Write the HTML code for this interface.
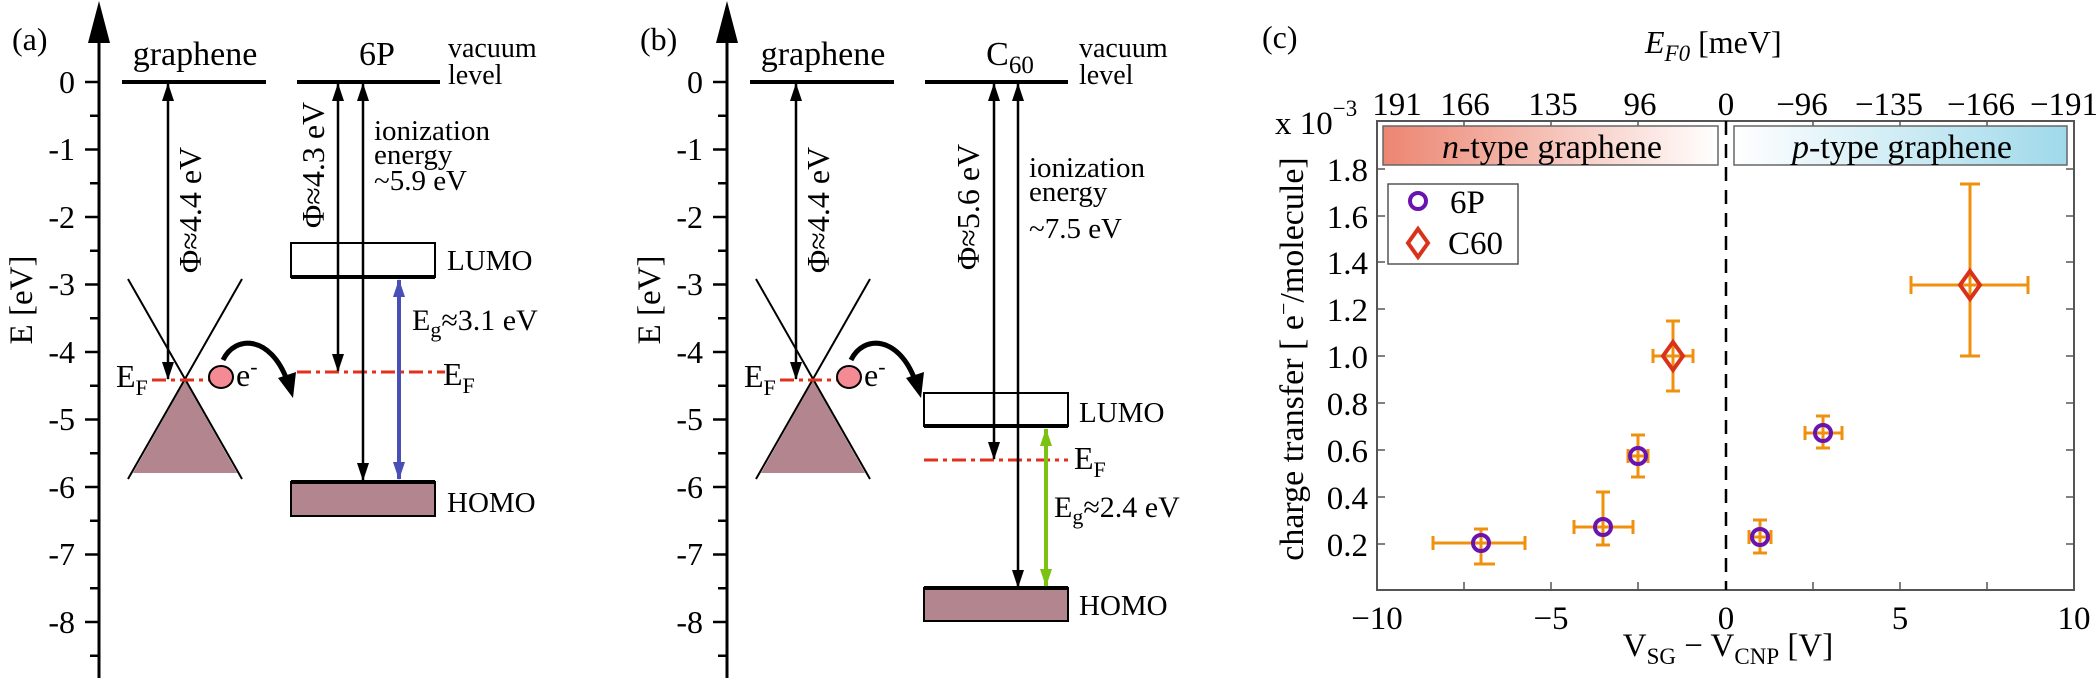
<!DOCTYPE html>
<html><head><meta charset="utf-8"><style>
html,body{margin:0;padding:0;background:#fff;}
svg{display:block;font-family:"Liberation Serif",serif;}
</style></head><body>
<svg width="2100" height="678" viewBox="0 0 2100 678" xmlns="http://www.w3.org/2000/svg">
<defs>
<marker id="ah" viewBox="0 0 18 12" refX="17" refY="6" markerWidth="18" markerHeight="12" orient="auto-start-reverse" markerUnits="userSpaceOnUse"><path d="M0,0 L18,6 L0,12 z" fill="#000"/></marker>
<marker id="ahb" viewBox="0 0 18 12" refX="17" refY="6" markerWidth="18" markerHeight="12" orient="auto-start-reverse" markerUnits="userSpaceOnUse"><path d="M0,0 L18,6 L0,12 z" fill="#4a4fb8"/></marker>
<marker id="ahg" viewBox="0 0 18 12" refX="17" refY="6" markerWidth="18" markerHeight="12" orient="auto-start-reverse" markerUnits="userSpaceOnUse"><path d="M0,0 L18,6 L0,12 z" fill="#7cc212"/></marker>
<linearGradient id="gn" x1="0" x2="1"><stop offset="0" stop-color="#ec8571"/><stop offset="1" stop-color="#fff"/></linearGradient>
<linearGradient id="gp" x1="0" x2="1"><stop offset="0" stop-color="#fff"/><stop offset="1" stop-color="#9fd9ea"/></linearGradient>
</defs>

<g id="pa">
<text x="12" y="50" font-size="32">(a)</text>
<line x1="99" y1="30" x2="99" y2="678" stroke="#000" stroke-width="3"/>
<polygon points="99,1 88,43 110,43" fill="#000"/>
<g stroke="#000" stroke-width="2.5">
<line x1="85" y1="82" x2="99" y2="82"/><line x1="85" y1="149.5" x2="99" y2="149.5"/><line x1="85" y1="217" x2="99" y2="217"/><line x1="85" y1="284.5" x2="99" y2="284.5"/><line x1="85" y1="352" x2="99" y2="352"/><line x1="85" y1="419.5" x2="99" y2="419.5"/><line x1="85" y1="487" x2="99" y2="487"/><line x1="85" y1="554.5" x2="99" y2="554.5"/><line x1="85" y1="622" x2="99" y2="622"/>
<line x1="90" y1="115.75" x2="99" y2="115.75"/><line x1="90" y1="183.25" x2="99" y2="183.25"/><line x1="90" y1="250.75" x2="99" y2="250.75"/><line x1="90" y1="318.25" x2="99" y2="318.25"/><line x1="90" y1="385.75" x2="99" y2="385.75"/><line x1="90" y1="453.25" x2="99" y2="453.25"/><line x1="90" y1="520.75" x2="99" y2="520.75"/><line x1="90" y1="588.25" x2="99" y2="588.25"/><line x1="90" y1="655.75" x2="99" y2="655.75"/>
</g>
<g font-size="32" text-anchor="end">
<text x="75" y="93">0</text><text x="75" y="160">-1</text><text x="75" y="228">-2</text><text x="75" y="295">-3</text><text x="75" y="363">-4</text><text x="75" y="430">-5</text><text x="75" y="498">-6</text><text x="75" y="565">-7</text><text x="75" y="633">-8</text>
</g>
<text transform="translate(32,300) rotate(-90)" font-size="33" text-anchor="middle">E [eV]</text>
<text x="195" y="65" font-size="34" text-anchor="middle">graphene</text>
<line x1="122" y1="82" x2="266" y2="82" stroke="#000" stroke-width="4"/>
<line x1="168" y1="84" x2="168" y2="379" stroke="#000" stroke-width="2.5" marker-start="url(#ah)" marker-end="url(#ah)"/>
<text transform="translate(201,210) rotate(-90)" font-size="32" text-anchor="middle">Φ≈4.4 eV</text>
<polygon points="185,381 133,473 237,473" fill="#b3858f"/>
<line x1="128" y1="279" x2="242" y2="479" stroke="#000" stroke-width="2"/>
<line x1="242" y1="279" x2="128" y2="479" stroke="#000" stroke-width="2"/>
<line x1="152" y1="380" x2="210" y2="380" stroke="#e0301e" stroke-width="3" stroke-dasharray="14,5,4,5"/>
<text x="116" y="387" font-size="32">E<tspan font-size="22" dy="8">F</tspan></text>
<ellipse cx="221" cy="377" rx="12" ry="11" fill="#f48a94" stroke="#000" stroke-width="2"/>
<text x="236" y="386" font-size="32">e<tspan font-size="22" dy="-12">-</tspan></text>
<path d="M223,360 C235,335 270,335 287,380" fill="none" stroke="#000" stroke-width="5"/>
<polygon points="293,398 278,378 296,372" fill="#000"/>
</g>
<use href="#pa" x="628" y="0"/>
<rect x="632" y="20" width="60" height="40" fill="#fff"/>
<text x="640" y="50" font-size="32">(b)</text>

<text x="377" y="65" font-size="34" text-anchor="middle">6P</text>
<line x1="297" y1="82" x2="440" y2="82" stroke="#000" stroke-width="4"/>
<text x="448" y="57" font-size="28">vacuum</text>
<text x="448" y="84" font-size="28">level</text>
<rect x="291" y="243" width="144" height="34" fill="#fff" stroke="#000" stroke-width="2"/>
<line x1="291" y1="277" x2="435" y2="277" stroke="#000" stroke-width="4"/>
<rect x="291" y="482" width="144" height="34" fill="#b3858f" stroke="#000" stroke-width="2"/>
<line x1="291" y1="482" x2="435" y2="482" stroke="#000" stroke-width="4"/>
<line x1="297" y1="372" x2="445" y2="372" stroke="#e0301e" stroke-width="3" stroke-dasharray="14,5,4,5"/>
<line x1="338" y1="84" x2="338" y2="371" stroke="#000" stroke-width="2.5" marker-start="url(#ah)" marker-end="url(#ah)"/>
<line x1="363" y1="84" x2="363" y2="480" stroke="#000" stroke-width="2.5" marker-start="url(#ah)" marker-end="url(#ah)"/>
<line x1="399" y1="280" x2="399" y2="479" stroke="#4a4fb8" stroke-width="4" marker-start="url(#ahb)" marker-end="url(#ahb)"/>
<text transform="translate(324,165) rotate(-90)" font-size="32" text-anchor="middle">Φ≈4.3 eV</text>
<text x="374" y="140" font-size="29">ionization</text>
<text x="374" y="164" font-size="29">energy</text>
<text x="374" y="190" font-size="29">~5.9 eV</text>
<text x="447" y="270" font-size="29">LUMO</text>
<text x="412" y="330" font-size="30">E<tspan font-size="22" dy="7">g</tspan><tspan dy="-7">≈3.1 eV</tspan></text>
<text x="443" y="385" font-size="32">E<tspan font-size="22" dy="8">F</tspan></text>
<text x="447" y="512" font-size="29">HOMO</text>

<text x="1010" y="65" font-size="34" text-anchor="middle">C<tspan font-size="25" dy="8">60</tspan></text>
<line x1="925" y1="82" x2="1068" y2="82" stroke="#000" stroke-width="4"/>
<text x="1079" y="57" font-size="28">vacuum</text>
<text x="1079" y="84" font-size="28">level</text>
<rect x="924" y="393" width="144" height="33" fill="#fff" stroke="#000" stroke-width="2"/>
<line x1="924" y1="426" x2="1068" y2="426" stroke="#000" stroke-width="4"/>
<rect x="924" y="588" width="144" height="33" fill="#b3858f" stroke="#000" stroke-width="2"/>
<line x1="924" y1="588" x2="1068" y2="588" stroke="#000" stroke-width="4"/>
<line x1="924" y1="460" x2="1068" y2="460" stroke="#e0301e" stroke-width="3" stroke-dasharray="14,5,4,5"/>
<line x1="994" y1="84" x2="994" y2="459" stroke="#000" stroke-width="2.5" marker-start="url(#ah)" marker-end="url(#ah)"/>
<line x1="1018" y1="84" x2="1018" y2="587" stroke="#000" stroke-width="2.5" marker-start="url(#ah)" marker-end="url(#ah)"/>
<line x1="1046" y1="429" x2="1046" y2="586" stroke="#7cc212" stroke-width="4" marker-start="url(#ahg)" marker-end="url(#ahg)"/>
<text transform="translate(979,207) rotate(-90)" font-size="32" text-anchor="middle">Φ≈5.6 eV</text>
<text x="1029" y="177" font-size="29">ionization</text>
<text x="1029" y="201" font-size="29">energy</text>
<text x="1029" y="238" font-size="29">~7.5 eV</text>
<text x="1079" y="422" font-size="29">LUMO</text>
<text x="1074" y="469" font-size="32">E<tspan font-size="22" dy="8">F</tspan></text>
<text x="1054" y="517" font-size="30">E<tspan font-size="22" dy="7">g</tspan><tspan dy="-7">≈2.4 eV</tspan></text>
<text x="1079" y="615" font-size="29">HOMO</text>

<text x="1262" y="48" font-size="32">(c)</text>
<text x="1645" y="53" font-size="32" font-style="italic">E<tspan font-size="23" dy="8">F0</tspan><tspan font-style="normal" dy="-8">  [meV]</tspan></text>
<rect x="1377" y="121" width="697" height="469" fill="none" stroke="#555" stroke-width="2"/>
<g stroke="#555" stroke-width="1.5">
<line x1="1464" y1="590" x2="1464" y2="582"/><line x1="1551" y1="590" x2="1551" y2="582"/><line x1="1638" y1="590" x2="1638" y2="582"/><line x1="1726" y1="590" x2="1726" y2="582"/><line x1="1813" y1="590" x2="1813" y2="582"/><line x1="1900" y1="590" x2="1900" y2="582"/><line x1="1987" y1="590" x2="1987" y2="582"/>
<line x1="1464" y1="121" x2="1464" y2="129"/><line x1="1551" y1="121" x2="1551" y2="129"/><line x1="1638" y1="121" x2="1638" y2="129"/><line x1="1813" y1="121" x2="1813" y2="129"/><line x1="1900" y1="121" x2="1900" y2="129"/><line x1="1987" y1="121" x2="1987" y2="129"/>
<line x1="1377" y1="544" x2="1385" y2="544"/><line x1="1377" y1="497" x2="1385" y2="497"/><line x1="1377" y1="450" x2="1385" y2="450"/><line x1="1377" y1="403" x2="1385" y2="403"/><line x1="1377" y1="356" x2="1385" y2="356"/><line x1="1377" y1="309" x2="1385" y2="309"/><line x1="1377" y1="262" x2="1385" y2="262"/><line x1="1377" y1="216" x2="1385" y2="216"/><line x1="1377" y1="169" x2="1385" y2="169"/>
<line x1="2074" y1="544" x2="2066" y2="544"/><line x1="2074" y1="497" x2="2066" y2="497"/><line x1="2074" y1="450" x2="2066" y2="450"/><line x1="2074" y1="403" x2="2066" y2="403"/><line x1="2074" y1="356" x2="2066" y2="356"/><line x1="2074" y1="309" x2="2066" y2="309"/><line x1="2074" y1="262" x2="2066" y2="262"/><line x1="2074" y1="216" x2="2066" y2="216"/><line x1="2074" y1="169" x2="2066" y2="169"/>
</g>
<g font-size="33" text-anchor="end">
<text x="1368" y="556">0.2</text><text x="1368" y="509">0.4</text><text x="1368" y="462">0.6</text><text x="1368" y="415">0.8</text><text x="1368" y="368">1.0</text><text x="1368" y="321">1.2</text><text x="1368" y="274">1.4</text><text x="1368" y="228">1.6</text><text x="1368" y="181">1.8</text>
</g>
<text x="1275" y="134" font-size="33">x 10<tspan font-size="23" dy="-18">−3</tspan></text>
<text transform="translate(1303,359) rotate(-90)" font-size="34" text-anchor="middle">charge transfer [ e<tspan font-size="22" dy="-12">−</tspan><tspan dy="12">/molecule]</tspan></text>
<g font-size="33" text-anchor="middle">
<text x="1377" y="629">−10</text><text x="1551" y="629">−5</text><text x="1726" y="629">0</text><text x="1900" y="629">5</text><text x="2074" y="629">10</text>
<text x="1397" y="115">191</text><text x="1465" y="115">166</text><text x="1553" y="115">135</text><text x="1640" y="115">96</text><text x="1726" y="115">0</text><text x="1802" y="115">−96</text><text x="1889" y="115">−135</text><text x="1981" y="115">−166</text><text x="2064" y="115">−191</text>
</g>
<text x="1728" y="656" font-size="33" text-anchor="middle">V<tspan font-size="23" dy="8">SG</tspan><tspan dy="-8"> − V</tspan><tspan font-size="23" dy="8">CNP</tspan><tspan dy="-8"> [V]</tspan></text>
<rect x="1383" y="126" width="335" height="39" fill="url(#gn)" stroke="#666" stroke-width="1.5"/>
<rect x="1734" y="126" width="333" height="39" fill="url(#gp)" stroke="#666" stroke-width="1.5"/>
<text x="1552" y="158" font-size="34" text-anchor="middle"><tspan font-style="italic">n</tspan>-type graphene</text>
<text x="1902" y="158" font-size="34" text-anchor="middle"><tspan font-style="italic">p</tspan>-type graphene</text>
<line x1="1726" y1="121" x2="1726" y2="590" stroke="#000" stroke-width="2.5" stroke-dasharray="14,9"/>
<rect x="1388" y="184" width="130" height="80" fill="#fff" stroke="#555" stroke-width="1.5"/>
<circle cx="1418" cy="201" r="8" fill="none" stroke="#6a14b0" stroke-width="4"/>
<polygon points="1418,229 1428,243 1418,257 1408,243" fill="none" stroke="#d9321a" stroke-width="4"/>
<text x="1450" y="213" font-size="33">6P</text>
<text x="1448" y="254" font-size="33">C60</text>

<g stroke="#f0900f" stroke-width="3" fill="none">
<path d="M1433,543 H1525 M1433,536 V550 M1525,536 V550 M1481,529 V564 M1474,529 H1488 M1474,564 H1495"/>
<path d="M1574,527 H1633 M1574,520 V534 M1633,520 V534 M1603,492 V545 M1596,492 H1610 M1596,545 H1610"/>
<path d="M1628,456 H1648 M1628,449 V463 M1648,449 V463 M1638,435 V477 M1631,435 H1645 M1631,477 H1645"/>
<path d="M1653,356 H1693 M1653,349 V363 M1693,349 V363 M1673,321 V391 M1666,321 H1680 M1666,391 H1680"/>
<path d="M1749,537 H1771 M1749,530 V544 M1771,530 V544 M1760,520 V553 M1753,520 H1767 M1753,553 H1767"/>
<path d="M1805,433 H1842 M1805,426 V440 M1842,426 V440 M1823,416 V448 M1816,416 H1830 M1816,448 H1830"/>
<path d="M1911,285 H2028 M1911,276 V294 M2028,276 V294 M1970,184 V356 M1960,184 H1980 M1960,356 H1980"/>
</g>
<g fill="none" stroke="#6a14b0" stroke-width="4">
<circle cx="1481" cy="543" r="8"/><circle cx="1603" cy="527" r="8"/><circle cx="1638" cy="456" r="8"/><circle cx="1760" cy="537" r="8"/><circle cx="1823" cy="433" r="8"/>
</g>
<g fill="none" stroke="#d9321a" stroke-width="4">
<polygon points="1673,342 1683,356 1673,370 1663,356"/>
<polygon points="1970,271 1980,285 1970,299 1960,285"/>
</g>
</svg>
</body></html>
